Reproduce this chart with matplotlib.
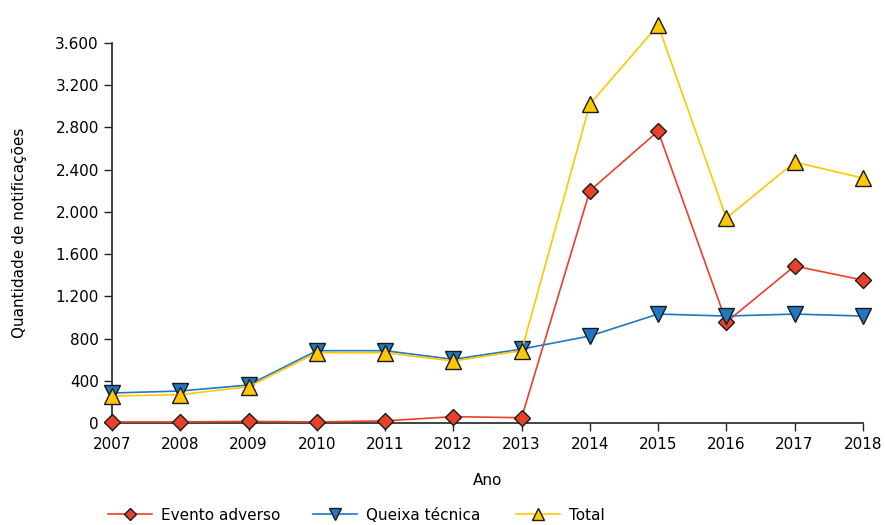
import matplotlib
matplotlib.use("Agg")
import matplotlib.pyplot as plt
from matplotlib.ticker import FuncFormatter

anos = [2007, 2008, 2009, 2010, 2011, 2012, 2013, 2014, 2015, 2016, 2017, 2018]
evento_adverso = [10, 10, 15, 10, 20, 60, 50, 2200, 2765, 956, 1487, 1354]
queixa_tecnica = [284, 303, 360, 685, 685, 603, 700, 824, 1032, 1013, 1032, 1013]
total = [256, 268, 344, 666, 666, 587, 685, 3020, 3769, 1941, 2472, 2320]
y_ticks = [0, 400, 800, 1200, 1600, 2000, 2400, 2800, 3200, 3600]

plt.rcParams['font.family'] = ['DejaVu Sans']
plt.rcParams['font.size'] = 11

fig = plt.figure(figsize=(8.85, 5.25), dpi=100)
ax = fig.add_axes([0.1266, 0.1943, 0.8484, 0.7238])

l1, = ax.plot(anos, evento_adverso, color='#e8412a', lw=1.2, marker='D', ms=8.5,
              mfc='#e8412a', mec='#1a1a1a', mew=1.0, label='Evento adverso', clip_on=False, zorder=3)
l2, = ax.plot(anos, queixa_tecnica, color='#1f78c1', lw=1.2, marker='v', ms=12,
              mfc='#1f78c1', mec='#1a1a1a', mew=1.0, label='Queixa técnica', clip_on=False, zorder=4)
l3, = ax.plot(anos, total, color='#ffc800', lw=1.2, marker='^', ms=12,
              mfc='#ffc800', mec='#1a1a1a', mew=1.0, label='Total', clip_on=False, zorder=5)

ax.set_xlim(2007, 2018)
ax.set_ylim(0, 3600)
ax.set_xticks(anos)
ax.set_yticks(y_ticks)
ax.yaxis.set_major_formatter(FuncFormatter(lambda v, p: f"{int(v):,}".replace(",", ".")))

for s in ['top', 'right']:
    ax.spines[s].set_visible(False)
for s in ['left', 'bottom']:
    ax.spines[s].set_linewidth(1.2)
    ax.spines[s].set_color('#222222')
ax.tick_params(direction='out', length=6, width=1.0, colors='#222222', labelcolor='black')
ax.tick_params(axis='x', pad=4)

ax.set_xlabel('Ano', labelpad=15)
ax.set_ylabel('Quantidade de notificações', labelpad=20)

# one legend entry per slot along the bottom
for line, x0 in zip([l1, l2, l3], [108, 313, 516]):
    fig.legend(handles=[line], loc='center left', bbox_to_anchor=(x0 / 885, 1 - 515 / 525),
               frameon=False, borderpad=0, borderaxespad=0, handlelength=2.9,
               handletextpad=0.6, markerscale=0.72)

fig.savefig('out.png', dpi=100)
